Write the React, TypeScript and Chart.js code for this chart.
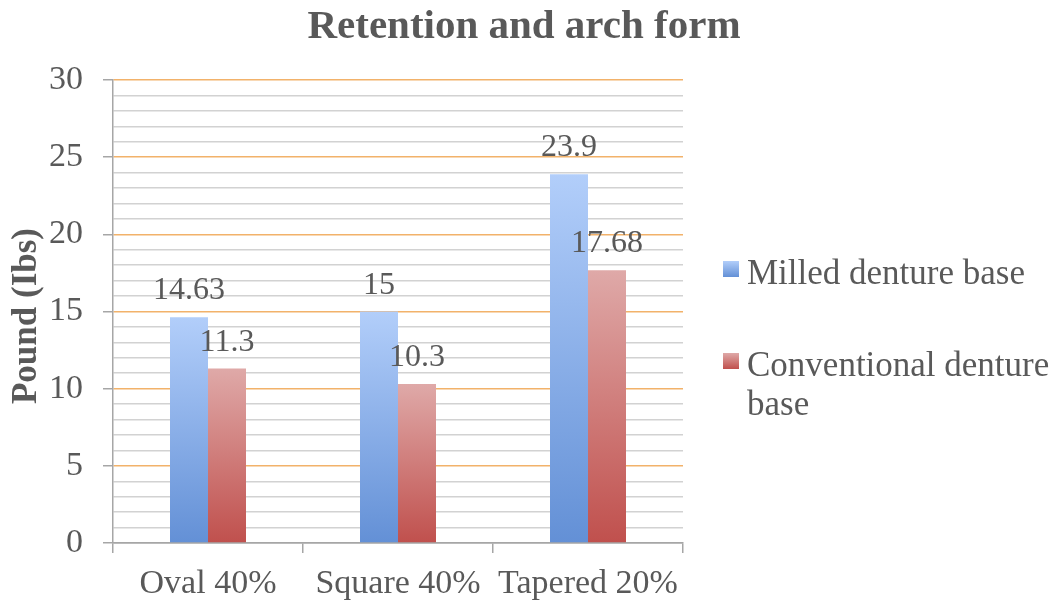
import React, { useEffect, useRef } from "react";
import { Chart, registerables } from "chart.js";

Chart.register(...registerables);

const categories = ["Oval 40%", "Square 40%", "Tapered 20%"];
const milledValues = [14.63, 15, 23.9];
const conventionalValues = [11.3, 10.3, 17.68];
const milledLabels = ["14.63", "15", "23.9"];
const conventionalLabels = ["11.3", "10.3", "17.68"];
const seriesNames = ["Milled denture base", ["Conventional denture", "base"]];
const chartTitle = "Retention and arch form";
const yTitle = "Pound (Ibs)";

const FONT = "'Liberation Serif', 'Times New Roman', serif";
const TEXT = "#595959";
const BLUE_TOP = "#b2cefa";
const BLUE_BOTTOM = "#6390d6";
const RED_TOP = "#dfa9a8";
const RED_BOTTOM = "#c0504d";

function gradFill(top: string, bottom: string) {
  return (ctx: any) => {
    const chart = ctx.chart;
    const ys = chart.scales && chart.scales.y;
    if (!ys || ctx.type !== "data" || ys.top === undefined) return bottom;
    const t = ys.getPixelForValue(ctx.raw);
    const b = ys.getPixelForValue(0);
    if (!isFinite(t) || !isFinite(b) || t === b) return bottom;
    const g = chart.ctx.createLinearGradient(0, t, 0, b);
    g.addColorStop(0, top);
    g.addColorStop(1, bottom);
    return g;
  };
}

const labelsPlugin = {
  id: "customText",
  afterDatasetsDraw(chart: any) {
    const ctx = chart.ctx;
    ctx.save();
    ctx.fillStyle = TEXT;
    ctx.font = `32px ${FONT}`;
    ctx.textAlign = "center";
    ctx.textBaseline = "alphabetic";
    const sets = [milledLabels, conventionalLabels];
    chart.data.datasets.forEach((ds: any, di: number) => {
      const meta = chart.getDatasetMeta(di);
      meta.data.forEach((bar: any, i: number) => {
        ctx.fillText(sets[di][i], bar.x, bar.y - 18);
      });
    });
    ctx.restore();
  },
  afterDraw(chart: any) {
    const ctx = chart.ctx;
    ctx.save();
    // title
    ctx.fillStyle = TEXT;
    ctx.font = `bold 41px ${FONT}`;
    ctx.textAlign = "center";
    ctx.textBaseline = "alphabetic";
    ctx.fillText(chartTitle, 524, 38);
    // y title
    ctx.save();
    ctx.translate(27, 316);
    ctx.rotate(-Math.PI / 2);
    ctx.font = `bold 35px ${FONT}`;
    ctx.textBaseline = "middle";
    ctx.fillText(yTitle, 0, 0);
    ctx.restore();
    // legend
    const items = [
      { name: seriesNames[0], top: BLUE_TOP, bottom: BLUE_BOTTOM, boxY: 261, baseY: 284 },
      { name: seriesNames[1], top: RED_TOP, bottom: RED_BOTTOM, boxY: 353, baseY: 376 },
    ];
    ctx.font = `35px ${FONT}`;
    ctx.textAlign = "left";
    items.forEach((it) => {
      const g = ctx.createLinearGradient(0, it.boxY, 0, it.boxY + 16);
      g.addColorStop(0, it.top);
      g.addColorStop(1, it.bottom);
      ctx.fillStyle = g;
      ctx.fillRect(723, it.boxY, 16, 16);
      ctx.fillStyle = TEXT;
      const lines = Array.isArray(it.name) ? it.name : [it.name];
      lines.forEach((ln: string, k: number) => {
        ctx.fillText(ln, 747, it.baseY + k * 39);
      });
    });
    ctx.restore();
  },
};

export default function App() {
  const ref = useRef<HTMLCanvasElement>(null);
  useEffect(() => {
    document.body.style.margin = "0";
    const canvas = ref.current!;
    const chart = new Chart(canvas, {
      type: "bar",
      data: {
        labels: categories,
        datasets: [
          {
            label: "Milled denture base",
            data: milledValues,
            backgroundColor: gradFill(BLUE_TOP, BLUE_BOTTOM),
            borderWidth: 0,
            categoryPercentage: 0.4,
            barPercentage: 1,
          },
          {
            label: "Conventional denture base",
            data: conventionalValues,
            backgroundColor: gradFill(RED_TOP, RED_BOTTOM),
            borderWidth: 0,
            categoryPercentage: 0.4,
            barPercentage: 1,
          },
        ],
      },
      options: {
        responsive: false,
        animation: false,
        layout: { padding: { left: 0, right: 372, top: 80, bottom: 0 } },
        plugins: {
          legend: { display: false },
          title: { display: false },
          tooltip: { enabled: false },
        },
        scales: {
          x: {
            offset: true,
            grid: {
              offset: true,
              drawOnChartArea: false,
              drawTicks: true,
              tickLength: 10,
              color: "#a6a6a6",
              lineWidth: 1.5,
            },
            border: { display: true, color: "#a6a6a6", width: 1.5 },
            ticks: {
              color: TEXT,
              font: { family: FONT, size: 34 },
              padding: 11,
              maxRotation: 0,
            },
            afterFit: (s: any) => {
              s.height = 64;
            },
          },
          y: {
            min: 0,
            max: 30,
            grid: {
              color: (c: any) => {
                const v = c.tick ? c.tick.value : 0;
                if (v === 0) return "#a6a6a6";
                return v % 5 === 0 ? "#f2b26a" : "#d2d2d2";
              },
              tickColor: (c: any) => {
                const v = c.tick ? c.tick.value : 0;
                return v % 5 === 0 ? "#a6a6a6" : "rgba(0,0,0,0)";
              },
              tickLength: 10,
              lineWidth: 1.5,
            },
            border: { display: true, color: "#a6a6a6", width: 1.5 },
            ticks: {
              stepSize: 1,
              autoSkip: false,
              color: TEXT,
              font: { family: FONT, size: 34 },
              padding: 20,
              callback: (v: any) => (Number(v) % 5 === 0 ? String(v) : ""),
            },
            afterFit: (s: any) => {
              s.width = 113;
            },
          },
        },
      },
      plugins: [labelsPlugin],
    });
    return () => chart.destroy();
  }, []);
  return (
    <div style={{ width: 1055, height: 607 }}>
      <canvas ref={ref} width={1055} height={607} style={{ display: "block" }} />
    </div>
  );
}
